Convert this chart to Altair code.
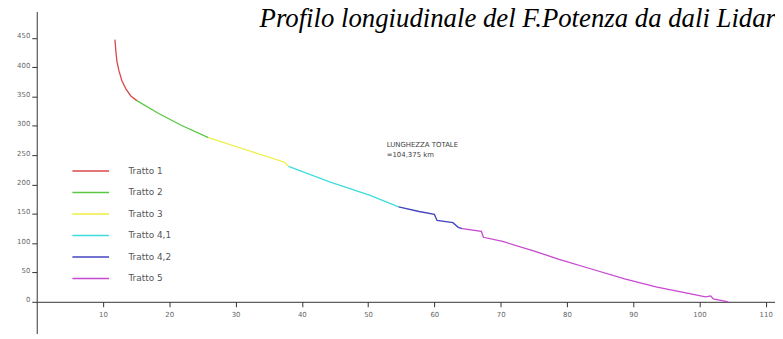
import altair as alt
import pandas as pd

# ---- data ----
tratti = ["Tratto 1", "Tratto 2", "Tratto 3", "Tratto 4,1", "Tratto 4,2", "Tratto 5"]
colori = ["#d84848", "#58c840", "#eeee40", "#40dcdc", "#4444c0", "#c848d0"]

tratto_1_km = [11.8, 11.95, 12.1, 12.4, 12.85, 13.45, 14.2, 15.1]
tratto_1_elev = [447, 426, 410, 394, 377, 363, 351, 343]
tratto_2_km = [15.1, 18.4, 21.8, 25.9]
tratto_2_elev = [343, 321, 301, 280]
tratto_3_km = [25.9, 31.9, 37.4, 38.0]
tratto_3_elev = [280, 258, 238, 231]
tratto_4_1_km = [38.0, 44.3, 50.2, 54.6]
tratto_4_1_elev = [231, 204, 182, 162]
tratto_4_2_km = [54.6, 57.7, 60.0, 60.4, 62.8, 63.6, 64.2]
tratto_4_2_elev = [162, 154, 149, 139, 135, 127, 125]
tratto_5_km = [64.2, 67.1, 67.4, 70.3, 75.2, 78.7, 83.7, 88.7, 93.6, 98.7, 100.9, 101.7, 102.1, 104.35]
tratto_5_elev = [125, 120, 110, 103, 86, 73, 56, 39, 25, 13.5, 8.4, 10, 5, 0]

x_ticks = [10, 20, 30, 40, 50, 60, 70, 80, 90, 100, 110]
y_ticks = [0, 50, 100, 150, 200, 250, 300, 350, 400, 450]

titolo = "Profilo longiudinale del F.Potenza da dali Lidar"
nota_testo = "LUNGHEZZA TOTALE\n=104,375 km"
nota_km = [52.8]
nota_elev = [274]

series = [
    (tratti[0], tratto_1_km, tratto_1_elev),
    (tratti[1], tratto_2_km, tratto_2_elev),
    (tratti[2], tratto_3_km, tratto_3_elev),
    (tratti[3], tratto_4_1_km, tratto_4_1_elev),
    (tratti[4], tratto_4_2_km, tratto_4_2_elev),
    (tratti[5], tratto_5_km, tratto_5_elev),
]
rows = []
for name, kms, elevs in series:
    for i, (k, e) in enumerate(zip(kms, elevs)):
        rows.append({"tratto": name, "km": k, "elev": e, "idx": i})
df = pd.DataFrame(rows)

x_scale = alt.Scale(domain=[0, 111.4], nice=False, zero=False)
y_scale = alt.Scale(domain=[-54, 495], nice=False, zero=False)

x_axis = alt.Axis(values=x_ticks, offset=-32, title=None, grid=False,
                  tickSize=5, labelPadding=4, labelFontSize=7, labelOverlap=False,
                  labelColor="#666", domainColor="#333", tickColor="#333")
y_axis = alt.Axis(values=y_ticks, title=None, grid=False,
                  tickSize=5, labelPadding=2, labelFontSize=7,
                  labelBaseline="alphabetic", labelOverlap=False,
                  labelColor="#666", domainColor="#333", tickColor="#333")

lines = alt.Chart(df).mark_line(strokeWidth=1.3).encode(
    x=alt.X("km:Q", scale=x_scale, axis=x_axis),
    y=alt.Y("elev:Q", scale=y_scale, axis=y_axis),
    color=alt.Color("tratto:N", scale=alt.Scale(domain=tratti, range=colori),
                    legend=alt.Legend(orient="none", legendX=36, legendY=150,
                                      title=None, symbolType="M-1.85,0L1.85,0",
                                      symbolSize=400, symbolStrokeWidth=1.5,
                                      symbolOffset=7.5,
                                      labelFontSize=9, labelColor="#555",
                                      labelOffset=27, rowPadding=5.7, padding=0)),
    order="idx:Q",
)

nota = alt.Chart(pd.DataFrame({"km": nota_km, "elev": nota_elev, "t": [nota_testo]})).mark_text(
    align="left", baseline="top", fontSize=7, lineBreak="\n", lineHeight=10, color="#444"
).encode(x=alt.X("km:Q", scale=x_scale, axis=x_axis),
         y=alt.Y("elev:Q", scale=y_scale, axis=y_axis), text="t:N")

titolo_layer = alt.Chart(pd.DataFrame({"t": [titolo]})).mark_text(
    align="right", baseline="alphabetic", font="Liberation Serif", fontStyle="italic",
    fontSize=27, color="black"
).encode(x=alt.value(746), y=alt.value(16), text="t:N")

chart = alt.layer(lines, nota, titolo_layer).properties(
    width=745, height=325,
    padding={"left": 29, "top": 2, "right": 0, "bottom": 0},
    autosize=alt.AutoSizeParams(type="none"),
).configure(font="DejaVu Sans", view=alt.ViewConfig(stroke=None))

chart.save("out.html", embed_options={"renderer": "svg", "actions": False})
